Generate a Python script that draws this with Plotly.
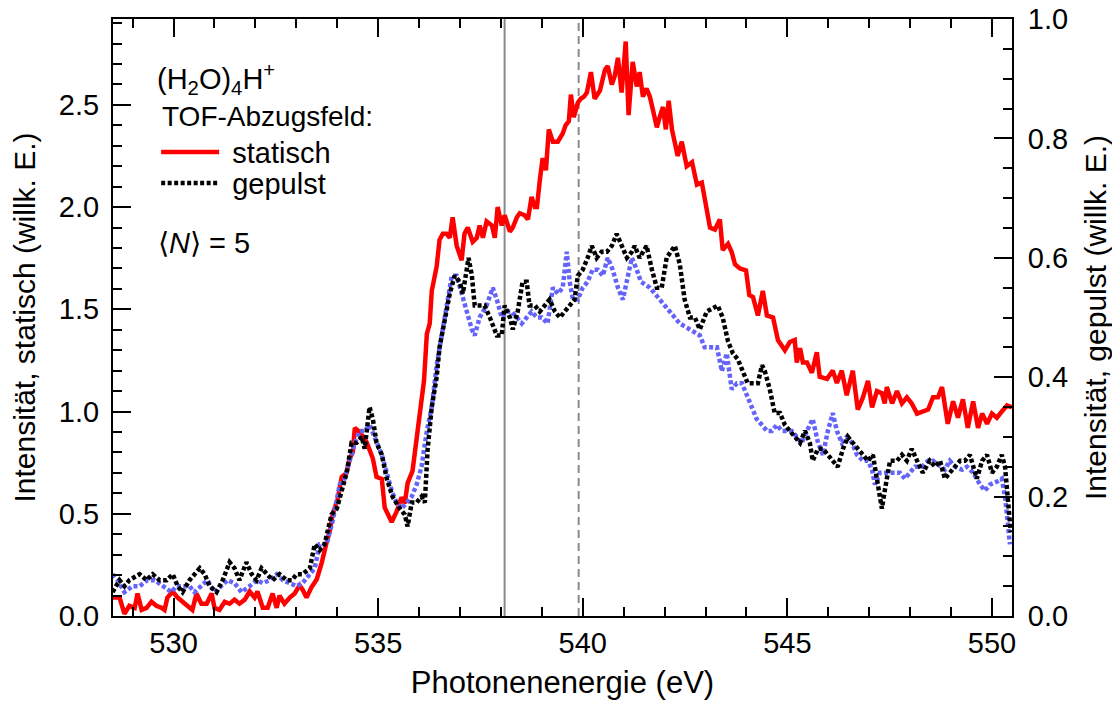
import plotly.graph_objects as go

# statisch (linke Achse)
stat_e = [528.51, 528.68, 528.80, 528.92, 529.05, 529.12, 529.22, 529.34, 529.46, 529.58, 529.71, 529.78, 529.85, 529.98,
          530.10, 530.22, 530.34, 530.46, 530.56, 530.68, 530.81, 530.93, 531.00, 531.12, 531.25, 531.37, 531.49, 531.61,
          531.74, 531.86, 531.98, 532.05, 532.18, 532.30, 532.42, 532.52, 532.59, 532.71, 532.84, 532.96, 533.08, 533.15,
          533.25, 533.37, 533.50, 533.62, 533.74, 533.81, 533.89, 534.01, 534.11, 534.23, 534.30, 534.38, 534.43, 534.55,
          534.72, 534.87, 534.96, 535.09, 535.16, 535.23, 535.33, 535.45, 535.57, 535.65, 535.72, 535.84, 535.94, 536.06,
          536.12, 536.19, 536.26, 536.31, 536.43, 536.50, 536.58, 536.67, 536.75, 536.82, 536.92, 537.04, 537.11, 537.19,
          537.31, 537.41, 537.48, 537.56, 537.65, 537.78, 537.85, 537.92, 538.02, 538.09, 538.22, 538.29, 538.39, 538.46,
          538.58, 538.66, 538.75, 538.83, 538.88, 538.95, 539.02, 539.10, 539.17, 539.27, 539.39, 539.51, 539.58, 539.66,
          539.71, 539.78, 539.88, 539.95, 540.03, 540.10, 540.20, 540.29, 540.42, 540.54, 540.61, 540.71, 540.78, 540.86,
          540.95, 541.05, 541.12, 541.22, 541.32, 541.39, 541.47, 541.56, 541.64, 541.71, 541.81, 541.88, 541.96, 542.03,
          542.10, 542.18, 542.25, 542.32, 542.42, 542.54, 542.67, 542.79, 542.91, 543.03, 543.11, 543.23, 543.35, 543.42,
          543.55, 543.64, 543.72, 543.84, 543.99, 544.07, 544.16, 544.28, 544.40, 544.50, 544.65, 544.77, 544.94, 545.06,
          545.18, 545.23, 545.31, 545.38, 545.48, 545.60, 545.72, 545.79, 545.97, 546.11, 546.21, 546.33, 546.45, 546.60,
          546.72, 546.85, 546.97, 547.07, 547.19, 547.31, 547.38, 547.43, 547.56, 547.68, 547.80, 547.92, 548.04, 548.17,
          548.29, 548.44, 548.56, 548.68, 548.78, 548.92, 549.05, 549.17, 549.29, 549.41, 549.54, 549.66, 549.76, 549.88,
          550.00, 550.12, 550.24, 550.37, 550.49]
stat_i = [0.09, 0.09, 0.01, 0.05, 0.04, 0.11, 0.03, 0.04, 0.07, 0.05, 0.04, 0.03, 0.09, 0.12,
          0.09, 0.07, 0.05, 0.03, 0.11, 0.06, 0.06, 0.11, 0.04, 0.03, 0.07, 0.06, 0.08, 0.06,
          0.08, 0.12, 0.09, 0.12, 0.04, 0.04, 0.11, 0.04, 0.10, 0.06, 0.09, 0.11, 0.15, 0.13,
          0.09, 0.14, 0.18, 0.26, 0.36, 0.41, 0.50, 0.57, 0.68, 0.70, 0.77, 0.80, 0.92, 0.90,
          0.85, 0.77, 0.68, 0.67, 0.53, 0.50, 0.46, 0.51, 0.58, 0.55, 0.65, 0.71, 0.88, 1.06,
          1.15, 1.38, 1.43, 1.59, 1.71, 1.84, 1.87, 1.87, 1.85, 1.95, 1.81, 1.74, 1.87, 1.90,
          1.83, 1.85, 1.91, 1.85, 1.93, 1.91, 1.85, 2.00, 1.91, 1.96, 1.88, 1.90, 1.95, 1.97,
          1.96, 1.94, 2.05, 2.00, 2.00, 2.13, 2.24, 2.18, 2.38, 2.32, 2.32, 2.36, 2.40, 2.42,
          2.55, 2.44, 2.51, 2.53, 2.54, 2.56, 2.66, 2.53, 2.57, 2.67, 2.69, 2.60, 2.64, 2.73,
          2.56, 2.81, 2.45, 2.71, 2.59, 2.66, 2.54, 2.58, 2.54, 2.48, 2.39, 2.44, 2.49, 2.38,
          2.52, 2.38, 2.31, 2.25, 2.32, 2.20, 2.22, 2.11, 2.12, 2.00, 1.90, 1.89, 1.94, 1.79,
          1.82, 1.78, 1.72, 1.70, 1.69, 1.57, 1.56, 1.47, 1.59, 1.47, 1.46, 1.35, 1.30, 1.34,
          1.35, 1.24, 1.31, 1.24, 1.24, 1.19, 1.29, 1.17, 1.16, 1.20, 1.14, 1.20, 1.08, 1.20,
          1.01, 1.07, 1.15, 1.02, 1.10, 1.09, 1.04, 1.12, 1.04, 1.10, 1.04, 1.07, 1.04, 0.99,
          1.00, 1.01, 1.07, 1.07, 1.12, 0.94, 1.05, 0.97, 1.06, 0.92, 1.05, 0.92, 0.99, 0.94,
          0.99, 0.97, 1.00, 1.03, 1.02]

# gepulst (rechte Achse)
puls_e = [528.51, 528.68, 528.80, 528.92, 529.17, 529.34, 529.49, 529.66, 529.83, 529.98, 530.10, 530.22, 530.39,
          530.64, 530.76, 530.88, 531.05, 531.20, 531.37, 531.49, 531.61, 531.78, 531.91, 532.03, 532.15, 532.27,
          532.42, 532.59, 532.76, 532.89, 533.01, 533.15, 533.33, 533.45, 533.57, 533.69, 533.86, 533.99, 534.11,
          534.23, 534.35, 534.47, 534.60, 534.67, 534.79, 534.87, 534.96, 535.09, 535.21, 535.35, 535.53, 535.65,
          535.72, 535.82, 535.94, 536.06, 536.14, 536.21, 536.31, 536.43, 536.50, 536.63, 536.75, 536.87, 536.99,
          537.07, 537.16, 537.21, 537.29, 537.36, 537.48, 537.60, 537.73, 537.90, 538.02, 538.09, 538.22, 538.29,
          538.41, 538.53, 538.63, 538.70, 538.83, 538.95, 539.07, 539.19, 539.32, 539.44, 539.56, 539.68, 539.80,
          539.88, 540.00, 540.12, 540.22, 540.34, 540.46, 540.59, 540.71, 540.83, 540.95, 541.08, 541.20, 541.27,
          541.39, 541.56, 541.69, 541.81, 541.93, 542.05, 542.25, 542.37, 542.49, 542.62, 542.74, 542.86, 543.03,
          543.30, 543.42, 543.55, 543.67, 543.79, 543.91, 544.03, 544.16, 544.28, 544.38, 544.45, 544.57, 544.69,
          544.82, 544.94, 545.06, 545.18, 545.31, 545.43, 545.55, 545.62, 545.75, 545.87, 545.99, 546.11, 546.23,
          546.36, 546.48, 546.60, 546.72, 546.85, 546.97, 547.09, 547.19, 547.31, 547.38, 547.51, 547.68, 547.80,
          547.92, 548.04, 548.17, 548.31, 548.48, 548.61, 548.73, 548.85, 548.97, 549.10, 549.22, 549.34, 549.46,
          549.63, 549.76, 549.88, 550.00, 550.12, 550.24, 550.32, 550.39, 550.46]
puls_i = [0.04, 0.06, 0.05, 0.06, 0.07, 0.06, 0.07, 0.06, 0.06, 0.07, 0.05, 0.04, 0.06,
          0.08, 0.07, 0.05, 0.04, 0.06, 0.09, 0.08, 0.06, 0.09, 0.07, 0.06, 0.08, 0.07,
          0.06, 0.07, 0.06, 0.06, 0.07, 0.07, 0.08, 0.12, 0.11, 0.12, 0.17, 0.18, 0.21,
          0.24, 0.29, 0.29, 0.30, 0.28, 0.35, 0.33, 0.29, 0.27, 0.23, 0.20, 0.18, 0.17,
          0.15, 0.19, 0.19, 0.20, 0.19, 0.28, 0.35, 0.40, 0.45, 0.50, 0.54, 0.57, 0.56,
          0.54, 0.58, 0.60, 0.57, 0.52, 0.52, 0.52, 0.50, 0.47, 0.47, 0.52, 0.50, 0.48,
          0.51, 0.56, 0.56, 0.52, 0.52, 0.51, 0.52, 0.53, 0.51, 0.50, 0.51, 0.52, 0.53,
          0.57, 0.58, 0.60, 0.62, 0.60, 0.61, 0.61, 0.62, 0.64, 0.62, 0.60, 0.61, 0.62,
          0.60, 0.62, 0.58, 0.55, 0.55, 0.60, 0.62, 0.59, 0.53, 0.50, 0.50, 0.48, 0.51,
          0.52, 0.50, 0.46, 0.44, 0.43, 0.41, 0.39, 0.39, 0.39, 0.42, 0.41, 0.38, 0.34,
          0.34, 0.32, 0.31, 0.30, 0.29, 0.31, 0.29, 0.26, 0.28, 0.28, 0.27, 0.26, 0.25,
          0.28, 0.30, 0.29, 0.28, 0.27, 0.26, 0.27, 0.23, 0.18, 0.21, 0.26, 0.26, 0.27,
          0.26, 0.28, 0.26, 0.24, 0.26, 0.25, 0.26, 0.23, 0.24, 0.25, 0.26, 0.26, 0.27,
          0.23, 0.26, 0.27, 0.24, 0.25, 0.27, 0.25, 0.19, 0.14]

# zweite gepulste Messung (blau, rechte Achse)
ref_e = [528.51, 528.63, 528.80, 529.00, 529.17, 529.36, 529.54, 529.73, 529.95, 530.07, 530.22, 530.39, 530.51,
         530.68, 530.83, 531.00, 531.17, 531.32, 531.49, 531.66, 531.86, 532.03, 532.18, 532.35, 532.52, 532.67,
         532.84, 533.01, 533.15, 533.33, 533.45, 533.57, 533.74, 533.89, 534.06, 534.18, 534.30, 534.43, 534.55,
         534.67, 534.79, 534.96, 535.09, 535.21, 535.33, 535.45, 535.57, 535.70, 535.82, 535.94, 536.06, 536.19,
         536.31, 536.43, 536.55, 536.67, 536.80, 536.92, 537.04, 537.16, 537.29, 537.36, 537.48, 537.65, 537.80,
         537.90, 538.02, 538.14, 538.26, 538.39, 538.51, 538.63, 538.75, 538.88, 539.00, 539.14, 539.27, 539.39,
         539.51, 539.61, 539.68, 539.76, 539.88, 540.00, 540.12, 540.24, 540.37, 540.49, 540.61, 540.73, 540.86,
         540.98, 541.08, 541.20, 541.32, 541.42, 541.64, 541.88, 542.13, 542.37, 542.62, 542.86, 542.98, 543.11,
         543.28, 543.40, 543.52, 543.64, 543.77, 543.89, 544.01, 544.13, 544.25, 544.38, 544.50, 544.62, 544.74,
         544.87, 544.99, 545.11, 545.23, 545.35, 545.48, 545.62, 545.75, 545.87, 545.99, 546.11, 546.21, 546.33,
         546.45, 546.58, 546.70, 546.85, 546.97, 547.07, 547.14, 547.26, 547.43, 547.58, 547.75, 547.87, 548.00,
         548.12, 548.29, 548.44, 548.56, 548.73, 548.85, 548.97, 549.10, 549.27, 549.39, 549.54, 549.71, 549.83,
         549.95, 550.12, 550.24, 550.32, 550.37, 550.44]
ref_i = [0.07, 0.06, 0.04, 0.05, 0.05, 0.06, 0.06, 0.05, 0.04, 0.05, 0.05, 0.05, 0.04,
         0.05, 0.06, 0.04, 0.05, 0.06, 0.055, 0.04, 0.05, 0.06, 0.055, 0.06, 0.07, 0.06,
         0.055, 0.05, 0.055, 0.07, 0.08, 0.12, 0.12, 0.16, 0.22, 0.23, 0.26, 0.29, 0.31,
         0.31, 0.32, 0.29, 0.27, 0.24, 0.21, 0.19, 0.18, 0.19, 0.20, 0.22, 0.25, 0.31,
         0.35, 0.42, 0.47, 0.52, 0.57, 0.57, 0.54, 0.51, 0.48, 0.47, 0.50, 0.52, 0.55,
         0.53, 0.50, 0.51, 0.51, 0.50, 0.49, 0.50, 0.51, 0.50, 0.50, 0.49, 0.55, 0.54,
         0.55, 0.61, 0.56, 0.53, 0.53, 0.55, 0.56, 0.58, 0.58, 0.57, 0.60, 0.58, 0.55,
         0.53, 0.56, 0.60, 0.58, 0.56, 0.55, 0.53, 0.51, 0.49, 0.48, 0.47, 0.45, 0.45,
         0.45, 0.41, 0.44, 0.38, 0.39, 0.39, 0.37, 0.35, 0.33, 0.32, 0.31, 0.31, 0.32,
         0.31, 0.31, 0.31, 0.30, 0.29, 0.31, 0.33, 0.29, 0.27, 0.31, 0.34, 0.31, 0.29,
         0.30, 0.29, 0.27, 0.26, 0.26, 0.245, 0.22, 0.24, 0.24, 0.24, 0.24, 0.23, 0.24,
         0.25, 0.25, 0.26, 0.26, 0.25, 0.245, 0.26, 0.25, 0.245, 0.25, 0.24, 0.22, 0.21,
         0.22, 0.225, 0.23, 0.20, 0.17, 0.12]

marker_e = [538.09, 539.90]   # senkrechte Markierungen (durchgezogen, gestrichelt)

FONT = "Arial, Liberation Sans, sans-serif"
DOTS = "4px,2.5px"

fig = go.Figure()
fig.add_trace(go.Scatter(x=ref_e, y=ref_i, yaxis="y2", mode="lines", showlegend=False,
                         line=dict(color="rgb(100,100,250)", width=4.5, dash=DOTS)))
fig.add_trace(go.Scatter(x=puls_e, y=puls_i, yaxis="y2", mode="lines", name="\u00a0gepulst",
                         legend="legend2", line=dict(color="black", width=4.5, dash=DOTS)))
fig.add_trace(go.Scatter(x=stat_e, y=stat_i, mode="lines", name="\u00a0statisch",
                         legend="legend", line=dict(color="red", width=4.5)))

fig.add_vline(x=marker_e[0], line=dict(color="#8a8a8a", width=2), layer="below")
fig.add_vline(x=marker_e[1], line=dict(color="#8a8a8a", width=2, dash="8px,5px"), layer="below")

axis_common = dict(showline=True, linecolor="black", linewidth=2, ticks="inside", tickwidth=2,
                   ticklen=18, tickcolor="black", showgrid=False, zeroline=False, automargin=False,
                   ticklabeloverflow="allow", tickfont=dict(size=29, color="black"))
minor_common = dict(ticklen=9, ticks="inside", tickwidth=2, tickcolor="black")
leg_common = dict(xanchor="left", yanchor="middle", bgcolor="rgba(0,0,0,0)",
                  font=dict(size=29), itemwidth=58)

fig.update_layout(
    width=1112, height=693,
    margin=dict(l=105, r=108, t=11, b=85),
    plot_bgcolor="white", paper_bgcolor="white",
    font=dict(family=FONT, size=29, color="black"),
    xaxis=dict(range=[528.52, 550.49], dtick=5, mirror="ticks",
               minor=dict(dtick=1, **minor_common),
               title=dict(text="Photonenenergie (eV)", font=dict(size=31), standoff=14),
               **axis_common),
    yaxis=dict(range=[0, 2.92], dtick=0.5, tickformat=".1f", ticklabelstandoff=6,
               minor=dict(dtick=0.1, **minor_common),
               title=dict(text="Intensität, statisch (willk. E.)", font=dict(size=30), standoff=20),
               **axis_common),
    yaxis2=dict(range=[0, 1.0], dtick=0.2, tickformat=".1f", overlaying="y", side="right",
                ticklabelstandoff=8, minor=dict(dtick=0.05, **minor_common),
                title=dict(text="Intensität, gepulst (willk. E.)", font=dict(size=30), standoff=18),
                **axis_common),
    legend=dict(x=0.048, y=0.777, **leg_common),
    legend2=dict(x=0.048, y=0.725, **leg_common),
)

fig.add_annotation(xref="paper", yref="paper", x=0.047, y=0.90, xanchor="left", yanchor="middle",
                   text="(H<sub>2</sub>O)<sub>4</sub>H<sup>+</sup>", showarrow=False, font=dict(size=29))
fig.add_annotation(xref="paper", yref="paper", x=0.052, y=0.8375, xanchor="left", yanchor="middle",
                   text="TOF-Abzugsfeld:", showarrow=False, font=dict(size=28))
fig.add_annotation(xref="paper", yref="paper", x=0.048, y=0.625, xanchor="left", yanchor="middle",
                   text="⟨<i>N</i>⟩ = 5", showarrow=False, font=dict(size=29))

fig.write_html("out.html")
